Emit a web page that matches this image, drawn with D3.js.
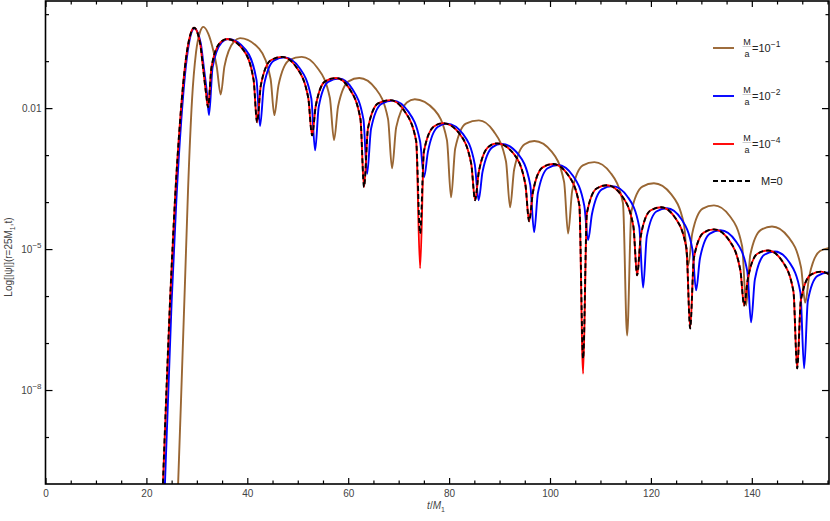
<!DOCTYPE html>
<html><head><meta charset="utf-8">
<script src="https://cdn.jsdelivr.net/npm/d3@7"></script>
<style>
body{margin:0;background:#fff;}
text{font-family:"Liberation Sans",Arial,sans-serif;}
</style></head>
<body><svg id="c" width="830" height="521"></svg>
<script>
// ---- data: [t/M1, log10 |psi|] ----
const xMajorTicks = [0,20,40,60,80,100,120,140];
const xMinorTicks = [5,10,15,25,30,35,45,50,55,65,70,75,85,90,95,105,110,115,125,130,135,145,150,155];
const yMajorExp = [-2,-5,-8];
const yMinorExp = [0,-1,-3,-4,-6,-7,-9];
const yMajorLabels = ["0.01","10|−5","10|−8"];

const seriesBrown = [[26.17,-10.36],[26.86,-8.23],[27.66,-5.67],[28.25,-3.75],[29.04,-1.83],[29.84,-0.81],[30.63,-0.38],[31.29,-0.27],
[32.28,-0.42],[33.27,-0.78],[33.94,-1.12],[34.73,-1.71],
[35.47,-1.11],[37.39,-0.58],[38.56,-0.51],[42.38,-0.74],[44.62,-1.38],[45.36,-2.15],
[46.19,-1.51],[48.32,-0.98],[50.79,-0.91],[53.88,-1.14],[56.36,-1.78],[57.19,-2.68],
[58.0,-1.96],[60.07,-1.43],[62.2,-1.36],[65.47,-1.59],[67.89,-2.23],[68.69,-3.28],
[69.51,-2.41],[71.62,-1.88],[73.2,-1.81],[77.11,-2.04],[79.57,-2.68],[80.39,-3.90],
[81.21,-2.86],[83.32,-2.33],[85.9,-2.26],[88.81,-2.49],[91.27,-3.13],[92.09,-4.11],
[92.90,-3.30],[94.97,-2.77],[96.9,-2.70],[100.37,-2.93],[102.79,-3.57],[103.59,-4.67],
[104.41,-3.75],[106.51,-3.22],[108.8,-3.15],[112.01,-3.38],[114.46,-4.02],[115.28,-6.84],
[116.13,-4.20],[118.31,-3.67],[120.6,-3.60],[124.0,-3.83],[126.54,-4.47],[127.39,-5.35],
[128.19,-4.67],[130.26,-4.14],[132.5,-4.07],[135.66,-4.30],[138.08,-4.94],[138.88,-6.20],
[139.70,-5.12],[141.81,-4.59],[144.0,-4.52],[147.30,-4.75],[149.76,-5.39],[150.58,-6.14],
[151.40,-5.57],[153.51,-5.04],[155.5,-4.97]];

const seriesBlue = [[23.5,-10.5],[25.0,-6.12],[25.95,-3.94],[26.9,-2.28],[28.02,-0.93],[28.75,-0.46],[29.5,-0.30],
[30.75,-0.61],[31.38,-1.13],[32.0,-1.68],[32.41,-2.15],
[33.12,-1.13],[34.94,-0.60],[36.2,-0.53],[39.70,-0.76],[41.82,-1.40],[42.53,-2.38],
[43.29,-1.52],[45.26,-0.99],[47.4,-0.92],[50.39,-1.15],[52.68,-1.79],[53.44,-2.90],
[54.16,-1.97],[56.02,-1.44],[58.2,-1.37],[60.86,-1.60],[63.02,-2.24],[63.74,-3.40],
[64.53,-2.44],[66.57,-1.91],[68.9,-1.84],[71.88,-2.07],[74.25,-2.71],[75.04,-3.47],
[75.80,-2.93],[77.74,-2.40],[79.6,-2.33],[82.82,-2.56],[85.09,-3.20],[85.85,-3.96],
[86.62,-3.36],[88.60,-2.83],[90.4,-2.76],[93.77,-2.99],[96.08,-3.63],[96.85,-4.64],
[97.60,-3.81],[99.53,-3.28],[101.6,-3.21],[104.55,-3.44],[106.80,-4.08],[107.55,-4.81],
[108.31,-4.26],[110.28,-3.73],[112.4,-3.66],[115.40,-3.89],[117.69,-4.53],[118.45,-5.82],
[119.19,-4.73],[121.08,-4.20],[123.2,-4.13],[126.02,-4.36],[128.22,-5.00],[128.96,-5.88],
[129.72,-5.20],[131.69,-4.67],[133.8,-4.60],[136.81,-4.83],[139.10,-5.47],[139.86,-6.56],
[140.60,-5.65],[142.49,-5.12],[144.6,-5.05],[147.43,-5.28],[149.63,-5.92],[150.37,-7.54],
[151.11,-6.10],[153.02,-5.57],[155.2,-5.50],[155.5,-5.50]];

const seriesRed = [[23.1,-10.5],[24.68,-6.12],[25.67,-3.94],[26.67,-2.28],[27.86,-0.93],[28.65,-0.46],[29.44,-0.29],
[30.63,-0.61],[31.22,-1.13],[31.82,-1.68],[32.22,-1.98],
[32.90,-1.13],[34.65,-0.60],[35.98,-0.53],[39.21,-0.76],[41.25,-1.40],[41.93,-2.30],
[42.69,-1.51],[44.66,-0.98],[46.89,-0.91],[49.79,-1.14],[52.08,-1.78],[52.84,-2.58],
[53.56,-1.96],[55.42,-1.43],[57.59,-1.36],[60.26,-1.59],[62.42,-2.23],[63.14,-3.68],
[63.92,-2.43],[65.92,-1.90],[68.30,-1.83],[71.14,-2.06],[73.47,-2.70],[74.25,-5.41],
[75.01,-2.92],[76.98,-2.39],[78.81,-2.32],[82.10,-2.55],[84.39,-3.19],[85.15,-3.96],
[85.90,-3.35],[87.83,-2.82],[89.51,-2.75],[92.86,-2.98],[95.11,-3.62],[95.86,-4.41],
[96.61,-3.79],[98.54,-3.26],[100.61,-3.19],[103.56,-3.42],[105.81,-4.06],[106.56,-7.65],
[107.31,-4.24],[109.24,-3.71],[111.32,-3.64],[114.27,-3.87],[116.52,-4.51],[117.27,-5.56],
[118.01,-4.71],[119.90,-4.18],[122.03,-4.11],[124.84,-4.34],[127.04,-4.98],[127.78,-6.69],
[128.53,-5.18],[130.46,-4.65],[132.53,-4.58],[135.48,-4.81],[137.73,-5.45],[138.48,-6.20],
[139.22,-5.63],[141.11,-5.10],[143.24,-5.03],[146.05,-5.26],[148.25,-5.90],[148.99,-7.54],
[149.73,-6.08],[151.64,-5.55],[153.8,-5.48],[155.5,-5.55]];

const seriesBlack = [[23.1,-10.5],[24.68,-6.12],[25.67,-3.94],[26.67,-2.28],[27.86,-0.93],[28.65,-0.46],[29.44,-0.29],
[30.63,-0.61],[31.22,-1.13],[31.82,-1.68],[32.22,-1.98],
[32.90,-1.13],[34.65,-0.60],[35.98,-0.53],[39.21,-0.76],[41.25,-1.40],[41.93,-2.30],
[42.69,-1.51],[44.66,-0.98],[46.89,-0.91],[49.79,-1.14],[52.08,-1.78],[52.84,-2.58],
[53.56,-1.96],[55.42,-1.43],[57.59,-1.36],[60.26,-1.59],[62.42,-2.23],[63.14,-3.68],
[63.92,-2.43],[65.92,-1.90],[68.30,-1.83],[71.14,-2.06],[73.47,-2.70],[74.25,-4.67],
[75.01,-2.92],[76.98,-2.39],[78.81,-2.32],[82.10,-2.55],[84.39,-3.19],[85.15,-3.96],
[85.90,-3.35],[87.83,-2.82],[89.51,-2.75],[92.86,-2.98],[95.11,-3.62],[95.86,-4.41],
[96.61,-3.79],[98.54,-3.26],[100.61,-3.19],[103.56,-3.42],[105.81,-4.06],[106.56,-7.33],
[107.31,-4.24],[109.24,-3.71],[111.32,-3.64],[114.27,-3.87],[116.52,-4.51],[117.27,-5.56],
[118.01,-4.71],[119.90,-4.18],[122.03,-4.11],[124.84,-4.34],[127.04,-4.98],[127.78,-6.69],
[128.53,-5.18],[130.46,-4.65],[132.53,-4.58],[135.48,-4.81],[137.73,-5.45],[138.48,-6.20],
[139.22,-5.63],[141.11,-5.10],[143.24,-5.03],[146.05,-5.26],[148.25,-5.90],[148.99,-7.54],
[149.73,-6.08],[151.64,-5.55],[153.8,-5.48],[155.5,-5.55]];

const legendNames = ["10|−1","10|−2","10|−4","M=0"];
const colors = ["#996633","#0000ff","#ff0000","#000000"];

// ---- chart ----
const svg = d3.select("#c");
const L = 45.5, R = 829, T = 1, B = 484;
const x = d3.scaleLinear().domain([0,155.3]).range([L,R]);
const y = d3.scaleLog().domain([1e-10, Math.pow(10,0.28)]).range([B,T]);

svg.append("defs").append("clipPath").attr("id","clip")
  .append("rect").attr("x",L).attr("y",T).attr("width",R-L).attr("height",B-T);

const line = d3.line().x(d=>x(d[0])).y(d=>y(Math.pow(10,d[1]))).curve(d3.curveMonotoneX);
const plot = svg.append("g").attr("clip-path","url(#clip)");
const allSeries = [seriesBrown, seriesBlue, seriesRed, seriesBlack];
allSeries.forEach((s,i)=>{
  plot.append("path").datum(s).attr("d",line).attr("fill","none")
    .attr("stroke",colors[i]).attr("stroke-width",1.9)
    .attr("stroke-linejoin","round")
    .attr("stroke-dasharray", i===3 ? "5,3" : null);
});

// axes (ticks inward)
function styleAxis(g){ g.select(".domain").remove(); g.selectAll("line").attr("stroke","#000").attr("stroke-width",1.2);
  g.selectAll("text").attr("fill","#444").attr("font-size",10).attr("font-family","Liberation Sans, Arial, sans-serif"); }
svg.append("g").attr("transform",`translate(0,${B})`)
  .call(d3.axisBottom(x).tickValues(xMajorTicks).tickSize(-6).tickPadding(6).tickFormat(d3.format("d"))).call(styleAxis);
svg.append("g").attr("transform",`translate(0,${B})`)
  .call(d3.axisBottom(x).tickValues(xMinorTicks).tickSize(-3.5).tickFormat("")).call(styleAxis);
svg.append("g").attr("transform",`translate(0,${T})`)
  .call(d3.axisTop(x).tickValues(xMajorTicks).tickSize(-6).tickFormat("")).call(styleAxis);
svg.append("g").attr("transform",`translate(0,${T})`)
  .call(d3.axisTop(x).tickValues(xMinorTicks).tickSize(-3.5).tickFormat("")).call(styleAxis);

const yMajVals = yMajorExp.map(e=>Math.pow(10,e));
const yMinVals = yMinorExp.map(e=>Math.pow(10,e));
svg.append("g").attr("transform",`translate(${L},0)`)
  .call(d3.axisLeft(y).tickValues(yMajVals).tickSize(-7).tickPadding(5).tickFormat("")).call(styleAxis);
svg.append("g").attr("transform",`translate(${L},0)`)
  .call(d3.axisLeft(y).tickValues(yMinVals).tickSize(-3.5).tickFormat("")).call(styleAxis);
svg.append("g").attr("transform",`translate(${R},0)`)
  .call(d3.axisRight(y).tickValues(yMajVals).tickSize(-7).tickFormat("")).call(styleAxis);
svg.append("g").attr("transform",`translate(${R},0)`)
  .call(d3.axisRight(y).tickValues(yMinVals).tickSize(-3.5).tickFormat("")).call(styleAxis);

// y tick labels with superscripts
yMajVals.forEach((v,i)=>{
  const t = svg.append("text").attr("x",L-4).attr("y",y(v)+3.5).attr("text-anchor","end")
    .attr("font-size",10).attr("fill","#444");
  const parts = yMajorLabels[i].split("|");
  t.append("tspan").text(parts[0]);
  if(parts[1]) t.append("tspan").attr("dy",-5).attr("font-size",8).text(parts[1]);
});

// frame
svg.append("rect").attr("x",L).attr("y",T).attr("width",R-L).attr("height",B-T)
  .attr("fill","none").attr("stroke","#000").attr("stroke-width",1.6);

// axis labels
const xl = svg.append("text").attr("x",436).attr("y",509).attr("text-anchor","middle").attr("font-size",10).attr("fill","#444");
xl.append("tspan").attr("font-style","italic").text("t");
xl.append("tspan").text("/");
xl.append("tspan").attr("font-style","italic").text("M");
xl.append("tspan").attr("font-size",7).attr("dy",3).text("1");

const yl = svg.append("text").attr("transform","translate(12,257) rotate(-90)").attr("text-anchor","middle")
  .attr("font-size",10).attr("fill","#444");
yl.append("tspan").text("Log[|ψ|](r=25M");
yl.append("tspan").attr("font-size",7).attr("dy",3).text("1");
yl.append("tspan").attr("dy",-3).text(",t)");

// legend
const legY = [48,96,144,181];
legendNames.forEach((nm,i)=>{
  const g = svg.append("g");
  if(i<3){
    g.append("line").attr("x1",713).attr("x2",734).attr("y1",legY[i]).attr("y2",legY[i])
      .attr("stroke",colors[i]).attr("stroke-width",1.9);
    g.append("text").attr("x",747).attr("y",legY[i]-3.5).attr("text-anchor","middle").attr("font-size",9).attr("fill","#222").text("M");
    g.append("line").attr("x1",742.5).attr("x2",751.5).attr("y1",legY[i]-1.5).attr("y2",legY[i]-1.5).attr("stroke","#999").attr("stroke-width",0.5);
    g.append("text").attr("x",747).attr("y",legY[i]+9).attr("text-anchor","middle").attr("font-size",9).attr("fill","#222").text("a");
    const parts = nm.split("|");
    const t = g.append("text").attr("x",752).attr("y",legY[i]+4).attr("font-size",11).attr("fill","#222");
    t.append("tspan").text("="+parts[0]);
    t.append("tspan").attr("dy",-5).attr("font-size",8.5).text(parts[1]);
  } else {
    g.append("line").attr("x1",713).attr("x2",752).attr("y1",legY[i]).attr("y2",legY[i])
      .attr("stroke",colors[i]).attr("stroke-width",1.9).attr("stroke-dasharray","5,3");
    g.append("text").attr("x",761).attr("y",legY[i]+4).attr("font-size",11).attr("fill","#222").text(nm);
  }
});
</script></body></html>
